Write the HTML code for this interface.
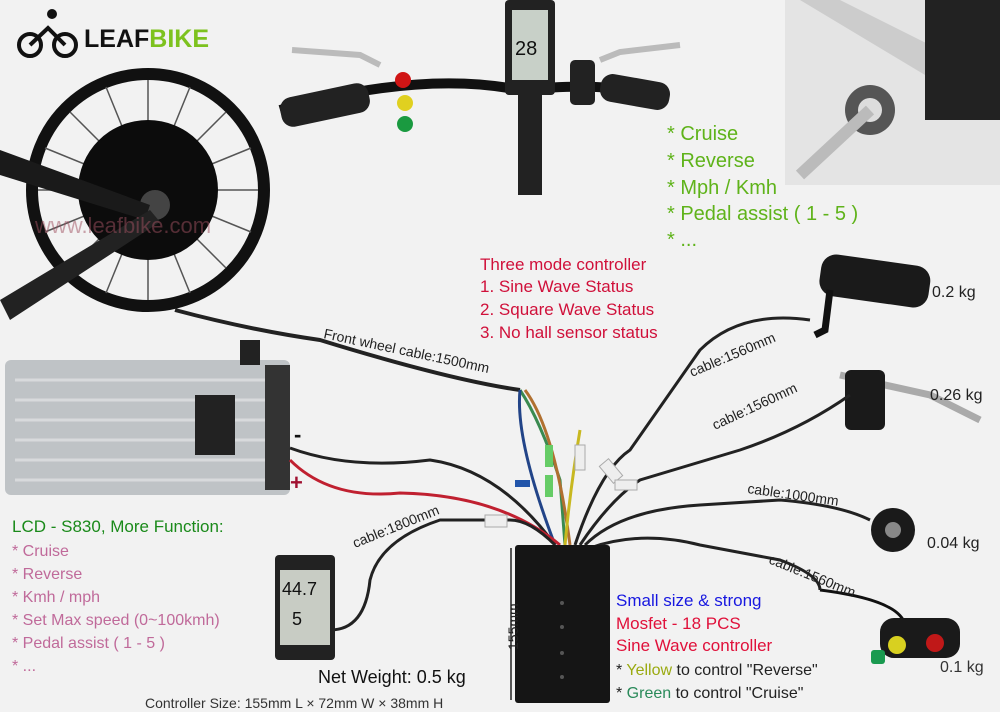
<!DOCTYPE html>
<html><head><meta charset="utf-8"><style>
html,body{margin:0;padding:0;background:#f2f2f2;}
svg{display:block}
text{font-family:"Liberation Sans","DejaVu Sans",sans-serif}
</style></head><body>
<svg width="1000" height="712" viewBox="0 0 1000 712" xmlns="http://www.w3.org/2000/svg">
<rect width="1000" height="712" fill="#f2f2f2"/>
<g fill="none" stroke="#111" stroke-width="4">
<circle cx="30" cy="45" r="11"/><circle cx="65" cy="45" r="11"/>
<path d="M30 45 L48 28 L65 45"/>
</g>
<circle cx="52" cy="14" r="5" fill="#111"/>
<text x="84" y="47" font-size="25" font-weight="bold" fill="#111">LEAF<tspan fill="#7dc21e">BIKE</tspan></text>
<circle cx="148" cy="190" r="116" fill="none" stroke="#111" stroke-width="12"/>
<g stroke="#555" stroke-width="1.5">
<line x1="148" y1="80" x2="148" y2="300"/><line x1="38" y1="190" x2="258" y2="190"/>
<line x1="70" y1="112" x2="226" y2="268"/><line x1="226" y1="112" x2="70" y2="268"/>
<line x1="106" y1="87" x2="190" y2="293"/><line x1="190" y1="87" x2="106" y2="293"/>
<line x1="45" y1="148" x2="251" y2="232"/><line x1="251" y1="148" x2="45" y2="232"/>
</g>
<circle cx="148" cy="190" r="70" fill="#0c0c0c"/>
<circle cx="155" cy="205" r="15" fill="#444"/>
<path d="M0 150 L150 205 L145 220 L0 175Z" fill="#1a1a1a"/>
<path d="M0 300 L150 210 L160 222 L10 320Z" fill="#222"/>
<text x="35" y="233" font-size="22" fill="#a05060" opacity="0.5">www.leafbike.com</text>
<path d="M280 110 Q420 70 520 90 Q620 80 660 100" stroke="#111" stroke-width="10" fill="none"/>
<rect x="280" y="90" width="90" height="30" rx="12" fill="#222" transform="rotate(-12 325 105)"/>
<rect x="600" y="78" width="70" height="28" rx="12" fill="#222" transform="rotate(10 635 92)"/>
<path d="M292 50 L360 55 L380 65" stroke="#bbb" stroke-width="6" fill="none"/>
<path d="M680 45 L620 52 L600 60" stroke="#bbb" stroke-width="6" fill="none"/>
<circle cx="403" cy="80" r="8" fill="#d01515"/><circle cx="405" cy="103" r="8" fill="#e0d020"/><circle cx="405" cy="124" r="8" fill="#1a9a40"/>
<rect x="505" y="0" width="50" height="95" rx="4" fill="#222"/>
<rect x="512" y="10" width="36" height="70" fill="#c8d0c8"/>
<text x="515" y="55" font-size="20" fill="#111">28</text>
<rect x="518" y="95" width="24" height="100" fill="#222"/>
<rect x="570" y="60" width="25" height="45" rx="5" fill="#222"/>
<rect x="785" y="0" width="215" height="185" fill="#e4e4e4"/>
<path d="M800 0 L1000 120 L1000 80 L840 0Z" fill="#ccc"/>
<rect x="925" y="0" width="75" height="120" fill="#222"/>
<circle cx="870" cy="110" r="25" fill="#555"/><circle cx="870" cy="110" r="12" fill="#ddd"/>
<path d="M800 175 L870 110" stroke="#bbb" stroke-width="12"/>
<g font-size="20" fill="#5fb31a">
<text x="667" y="140">* Cruise</text><text x="667" y="167">* Reverse</text>
<text x="667" y="194">* Mph / Kmh</text><text x="667" y="220">* Pedal assist ( 1 - 5 )</text>
<text x="667" y="246">* ...</text></g>
<g font-size="17" fill="#d0103a">
<text x="480" y="270">Three mode controller</text><text x="480" y="292">1. Sine Wave Status</text>
<text x="480" y="315">2. Square Wave Status</text><text x="480" y="338">3. No hall sensor status</text></g>
<rect x="820" y="260" width="110" height="42" rx="15" fill="#1a1a1a" transform="rotate(8 875 280)"/>
<path d="M830 290 L825 330 L815 335" stroke="#111" stroke-width="7" fill="none"/>
<text x="932" y="297" font-size="16" fill="#222">0.2 kg</text>
<path d="M840 375 L930 395 L980 420" stroke="#aaa" stroke-width="7" fill="none"/>
<rect x="845" y="370" width="40" height="60" rx="6" fill="#1a1a1a"/>
<text x="930" y="400" font-size="16" fill="#222">0.26 kg</text>
<circle cx="893" cy="530" r="22" fill="#1a1a1a"/><circle cx="893" cy="530" r="8" fill="#888"/>
<text x="927" y="548" font-size="16" fill="#222">0.04 kg</text>
<path d="M820 590 Q900 600 905 625" stroke="#111" stroke-width="3" fill="none"/>
<rect x="880" y="618" width="80" height="40" rx="14" fill="#1a1a1a"/>
<circle cx="935" cy="643" r="9" fill="#c01818"/><circle cx="897" cy="645" r="9" fill="#d8d020"/>
<rect x="871" y="650" width="14" height="14" rx="3" fill="#1a9a50"/>
<text x="940" y="672" font-size="16" fill="#333">0.1 kg</text>
<rect x="5" y="360" width="285" height="135" rx="6" fill="#bfc3c6"/>
<g stroke="#d8dadc" stroke-width="3"><line x1="15" y1="380" x2="280" y2="380"/><line x1="15" y1="400" x2="280" y2="400"/><line x1="15" y1="420" x2="280" y2="420"/><line x1="15" y1="440" x2="280" y2="440"/><line x1="15" y1="460" x2="280" y2="460"/><line x1="15" y1="480" x2="280" y2="480"/></g>
<rect x="195" y="395" width="40" height="60" fill="#222"/>
<rect x="265" y="365" width="25" height="125" fill="#333"/>
<rect x="240" y="340" width="20" height="25" fill="#222"/>
<text x="294" y="442" font-size="22" font-weight="bold" fill="#111">-</text>
<text x="290" y="490" font-size="22" font-weight="bold" fill="#a01030">+</text>
<g fill="none" stroke-width="3">
<path d="M175 310 Q250 330 320 340 Q450 380 520 390" stroke="#222" stroke-width="4"/>
<path d="M520 390 Q540 420 560 480 L565 545" stroke="#3a8a50"/>
<path d="M525 390 Q555 430 570 545" stroke="#b07030"/>
<path d="M520 390 Q515 440 555 545" stroke="#224488"/>
<path d="M290 448 Q350 470 430 460 Q500 470 555 545" stroke="#222"/>
<path d="M290 460 Q330 500 400 493 Q500 495 560 545" stroke="#c02030"/>
<path d="M565 545 Q570 490 580 430" stroke="#c8b820"/>
<path d="M575 545 Q600 470 630 450 L700 350 Q740 310 810 320" stroke="#222"/>
<path d="M580 545 Q610 500 640 480 L740 450 Q800 430 850 395" stroke="#222"/>
<path d="M585 545 Q620 510 700 505 L780 500 Q840 505 870 520" stroke="#222"/>
<path d="M590 548 Q640 530 700 545 L780 560 Q820 575 820 590" stroke="#222"/>
<path d="M555 545 Q530 520 510 520 L440 520 Q380 540 370 580 Q365 630 330 630" stroke="#222"/>
</g>
<rect x="545" y="445" width="8" height="22" fill="#6c6"/><rect x="545" y="475" width="8" height="22" fill="#6c6"/>
<rect x="575" y="445" width="10" height="25" fill="#eee" stroke="#aaa"/>
<rect x="605" y="460" width="12" height="22" fill="#eee" stroke="#aaa" transform="rotate(-40 611 471)"/>
<rect x="615" y="480" width="22" height="10" fill="#eee" stroke="#aaa"/>
<rect x="485" y="515" width="22" height="12" fill="#eee" stroke="#aaa"/>
<rect x="515" y="480" width="15" height="7" fill="#2255aa"/>
<g font-size="14" fill="#222">
<text x="323" y="338" transform="rotate(12 323 338)">Front wheel cable:1500mm</text>
<text x="692" y="377" transform="rotate(-23 692 377)">cable:1560mm</text>
<text x="715" y="430" transform="rotate(-25 715 430)">cable:1560mm</text>
<text x="747" y="493" transform="rotate(8 747 493)">cable:1000mm</text>
<text x="768" y="563" transform="rotate(22 768 563)">cable:1560mm</text>
<text x="355" y="548" transform="rotate(-22 355 548)">cable:1800mm</text>
</g>
<rect x="515" y="545" width="95" height="158" rx="3" fill="#151515"/>
<g fill="#555"><circle cx="562" cy="603" r="2"/><circle cx="562" cy="627" r="2"/><circle cx="562" cy="653" r="2"/><circle cx="562" cy="677" r="2"/></g>
<line x1="511" y1="548" x2="511" y2="700" stroke="#222" stroke-width="1.5"/>
<text x="518" y="650" font-size="14" fill="#222" transform="rotate(-90 518 650)">155mm</text>
<rect x="275" y="555" width="60" height="105" rx="4" fill="#222"/>
<rect x="280" y="570" width="50" height="75" fill="#c8ccc4"/>
<text x="282" y="595" font-size="18" fill="#111">44.7</text>
<text x="292" y="625" font-size="18" fill="#111">5</text>
<text x="12" y="532" font-size="17" fill="#1a8a1a">LCD - S830, More Function:</text>
<g font-size="16" fill="#c06a9a">
<text x="12" y="556">* Cruise</text><text x="12" y="579">* Reverse</text><text x="12" y="602">* Kmh / mph</text>
<text x="12" y="625">* Set Max speed (0~100kmh)</text><text x="12" y="648">* Pedal assist ( 1 - 5 )</text><text x="12" y="671">* ...</text></g>
<text x="318" y="683" font-size="18" fill="#111">Net Weight: 0.5 kg</text>
<text x="145" y="708" font-size="14" fill="#333">Controller Size: 155mm L × 72mm W × 38mm H</text>
<text x="616" y="606" font-size="17" fill="#1818e0">Small size &amp; strong</text>
<text x="616" y="629" font-size="17" fill="#e0103a">Mosfet - 18 PCS</text>
<text x="616" y="651" font-size="17" fill="#e0103a">Sine Wave controller</text>
<text x="616" y="675" font-size="16" fill="#222">* <tspan fill="#9aaa10">Yellow</tspan> to control "Reverse"</text>
<text x="616" y="698" font-size="16" fill="#222">* <tspan fill="#2a8a5a">Green</tspan> to control "Cruise"</text>
</svg>
</body></html>
